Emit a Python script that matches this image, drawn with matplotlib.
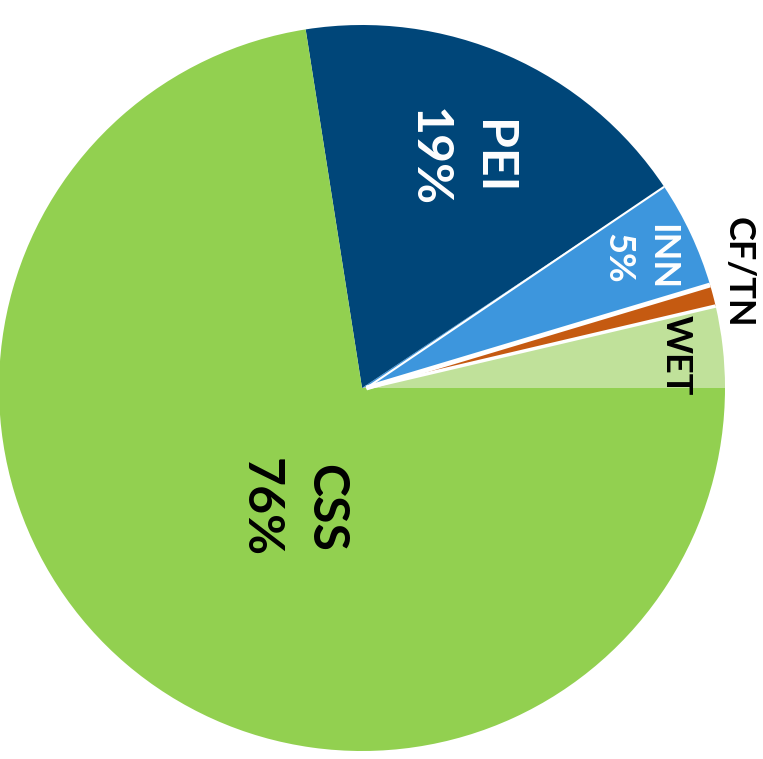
import numpy as np
import matplotlib.pyplot as plt

# slices, counter-clockwise from 3 o'clock
labels = ["WET", "CF/TN", "INN", "PEI", "CSS"]
values = [3.8, 1, 5, 19, 76]
pct_text = ["", "", "5%", "19%", "76%"]
colors = ["#C0E19A", "#C55A11", "#3D96DD", "#004679", "#92D050"]

W, H = 763, 759
cx, cy, r = 362, 388, 363

fig = plt.figure(figsize=(W / 100, H / 100), dpi=100)
ax = fig.add_axes([(cx - r) / W, (H - cy - r) / H, 2 * r / W, 2 * r / H])

ax.pie(values, colors=colors, startangle=0, counterclock=True, radius=1,
       wedgeprops=dict(linewidth=0))
ax.set_aspect("auto")
ax.set_xlim(-1, 1)
ax.set_ylim(-1, 1)
ax.axis("off")

# white separators between the small slices
bounds = np.cumsum(values) / np.sum(values) * 360
for ang, lw in [(bounds[0], 2.5), (bounds[1], 3.5), (bounds[2], 1.5)]:
    t = np.radians(ang)
    ax.plot([0.012, np.cos(t)], [0, np.sin(t)], color="white", lw=lw,
            solid_capstyle="butt")


def px(x, y):
    return (x - cx) / r, (cy - y) / r


font = ["Lato", "DejaVu Sans"]
big, small = 36, 26

# name and share, rotated to read downwards
items = [
    ("PEI", (493, 157), "white", big), ("19%", (428, 157), "white", big),
    ("CSS", (326, 508), "black", big), ("76%", (260, 508), "black", big),
    ("INN", (662, 257), "white", small), ("5%", (618, 258), "white", small),
    ("CF/TN", (738, 272), "black", small), ("WET", (676, 355), "black", small),
]
for txt, (x, y), c, fs in items:
    ax.text(*px(x, y), txt, color=c, fontsize=fs, fontweight="bold",
            family=font, rotation=270, ha="center", va="center")

fig.savefig("out.png", dpi=100)
